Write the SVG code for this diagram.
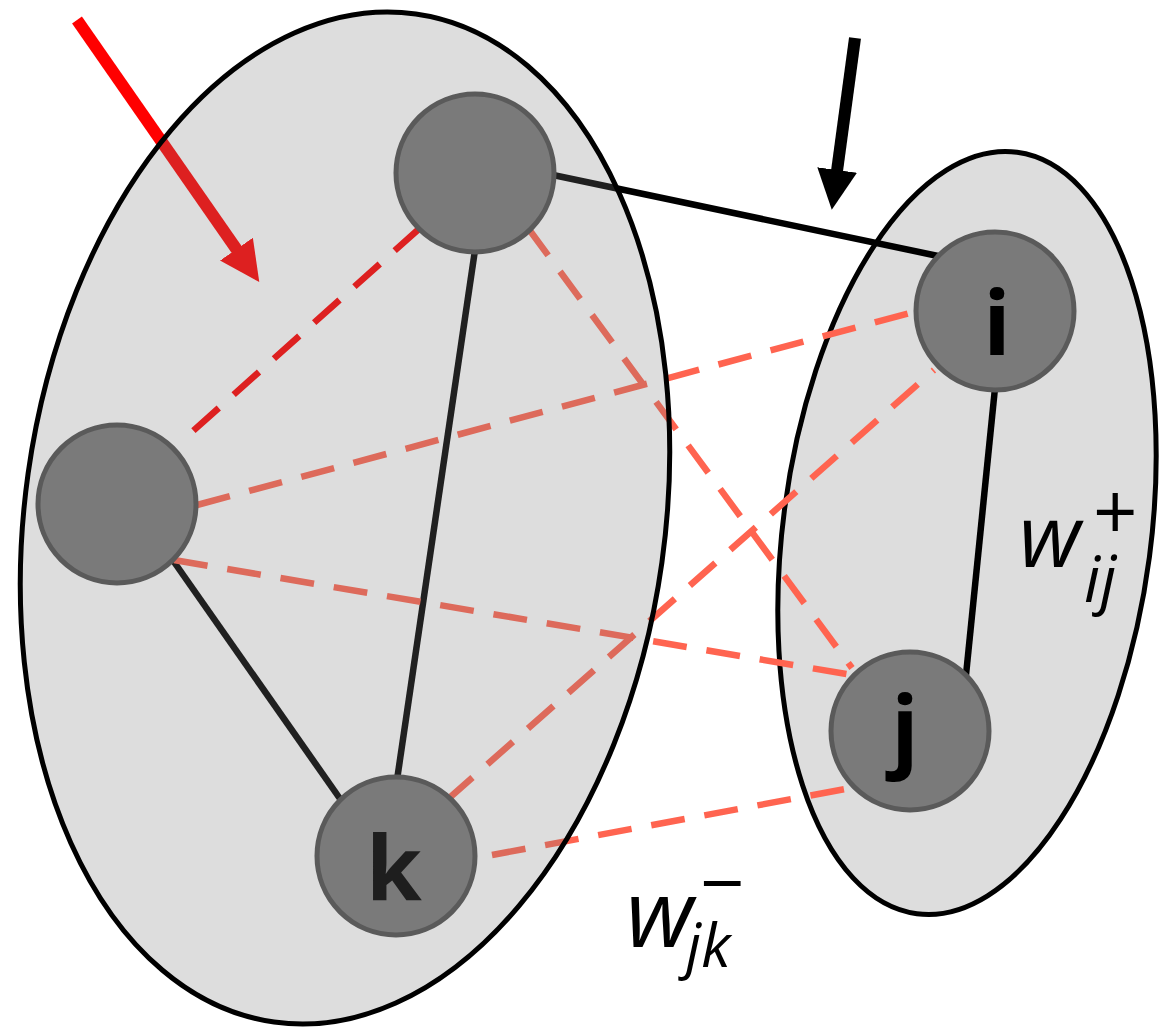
<svg xmlns="http://www.w3.org/2000/svg" width="1164" height="1031" viewBox="0 0 1164 1031">
<style>
.cluster-bg{fill:#dddddd;stroke:#000;stroke-width:5}
.cluster-ov{fill:rgb(124,124,124);fill-opacity:0.26;stroke:#000;stroke-width:5}
.solid{stroke:#000;stroke-width:6.5;fill:none}
.dash{stroke:#ff6450;stroke-width:6.5;stroke-dasharray:34 20;fill:none}
.dash-red{stroke:#ff0000;stroke-width:6.5;stroke-dasharray:34 20;fill:none}
.node{fill:#7a7a7a;stroke:#5a5a5a;stroke-width:5}
.lbl{font-family:"Open Sans","Noto Sans","DejaVu Sans",sans-serif;font-weight:bold;font-size:90px;text-anchor:middle}
.math{font-family:"Open Sans","Noto Sans","DejaVu Sans",sans-serif;font-style:italic;fill:#000}
.op{font-style:normal}
</style>
<defs>
<marker id="headRed" markerUnits="userSpaceOnUse" viewBox="0 0 40 40" refX="1" refY="20" markerWidth="40" markerHeight="40" orient="auto">
<path d="M0,0 L40,20 L0,40 z" fill="#ff0000"/>
</marker>
<marker id="headBlack" markerUnits="userSpaceOnUse" viewBox="0 0 40 40" refX="1" refY="20" markerWidth="40" markerHeight="40" orient="auto">
<path d="M0,0 L40,20 L0,40 z" fill="#000"/>
</marker>
</defs>
<rect width="1164" height="1031" fill="#fff"/>
<g id="cluster-right">
<ellipse class="cluster-bg" cx="967" cy="533" rx="184" ry="384" transform="rotate(7.5 967 533)"/>
</g>
<g id="connectors">
<line class="solid" x1="553" y1="175" x2="938" y2="256"/>
<line class="solid" x1="475" y1="250" x2="397" y2="780"/>
<line class="solid" x1="172" y1="559" x2="343" y2="803"/>
<line class="solid" x1="995" y1="388" x2="966" y2="675"/>
<line class="dash-red" x1="420" y1="228" x2="183" y2="440"/>
<line class="dash" x1="197" y1="505" x2="917" y2="311"/>
<line class="dash" x1="174" y1="560" x2="858" y2="676"/>
<line class="dash" x1="528" y1="228" x2="852" y2="668"/>
<line class="dash" x1="447" y1="800" x2="934" y2="370"/>
<line class="dash" x1="492" y1="855" x2="856" y2="787"/>
<line x1="77" y1="20" x2="237" y2="250" stroke="#ff0000" stroke-width="12" marker-end="url(#headRed)"/>
<line x1="855" y1="38" x2="837" y2="171" stroke="#000" stroke-width="12" marker-end="url(#headBlack)"/>
</g>
<g id="cluster-left">
<ellipse class="cluster-ov" cx="345" cy="518" rx="320" ry="509" transform="rotate(8 345 518)"/>
</g>
<g id="node-top">
<circle class="node" cx="475" cy="173" r="79"/>
</g>
<g id="node-left">
<circle class="node" cx="117" cy="504" r="79"/>
</g>
<g id="node-k">
<circle class="node" cx="396" cy="856" r="79"/>
<text class="lbl" x="394" y="900" fill="#1e1e1e">k</text>
</g>
<g id="node-i">
<circle class="node" cx="995" cy="311" r="79"/>
<text class="lbl" x="997" y="355" fill="#000">i</text>
</g>
<g id="node-j">
<circle class="node" cx="910" cy="731" r="79"/>
<text class="lbl" x="905" y="760" fill="#000">j</text>
</g>
<g id="label-wij">
<text class="math" x="1019" y="567" font-size="86">w<tspan font-size="64" x="1084" y="602">ij</tspan><tspan class="op" font-size="78" x="1093" y="540">+</tspan></text>
</g>
<g id="label-wjk">
<text class="math" x="626" y="947" font-size="94">w<tspan font-size="60" x="686" y="967">jk</tspan><tspan class="op" font-size="78" x="700" y="911">−</tspan></text>
</g>
</svg>
